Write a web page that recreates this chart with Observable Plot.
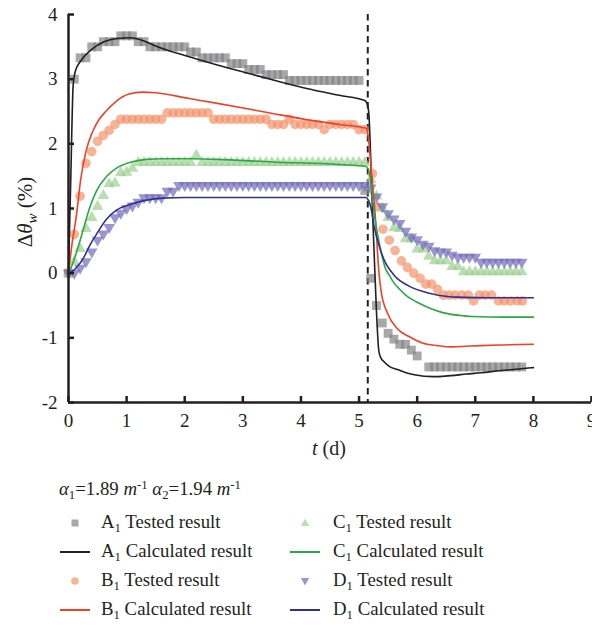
<!DOCTYPE html>
<html>
<head>
<meta charset="utf-8">
<script src="https://cdn.jsdelivr.net/npm/d3@7"></script>
<script src="https://cdn.jsdelivr.net/npm/@observablehq/plot@0.6"></script>
<style>
  html, body { margin: 0; padding: 0; background: #fff; }
  #wrap { position: relative; width: 592px; height: 627px; overflow: hidden;
          font-family: "Liberation Serif", "DejaVu Serif", serif; color: #231f20; }
  #chart { position: absolute; left: 0; top: 0; }
  .leg { position: absolute; font-size: 18.8px; line-height: 20px; white-space: nowrap; }
  .leg sub { font-size: 0.68em; line-height: 0; vertical-align: -0.28em; }
  .leg sup { font-size: 0.68em; line-height: 0; vertical-align: 0.45em; }
  .sym { position: absolute; }
</style>
</head>
<body>
<div id="wrap"><div id="chart"></div></div>
<script>
// ---------------- data ----------------
// A1 tested (squares)
const aT = [0,0.1,0.2,0.3,0.4,0.5,0.6,0.7,0.8,0.9,1,1.1,1.2,1.3,1.4,1.5,1.6,1.7,1.8,1.9,2,2.1,2.2,2.3,2.4,2.5,2.6,2.7,2.8,2.9,3,3.1,3.2,3.3,3.4,3.5,3.6,3.7,3.8,3.9,4,4.1,4.2,4.3,4.4,4.5,4.6,4.7,4.8,4.9,5,5.1,5.2,5.3,5.4,5.5,5.6,5.7,5.8,5.9,6,6.2,6.3,6.4,6.5,6.6,6.7,6.8,6.9,7,7.1,7.2,7.3,7.4,7.5,7.6,7.7,7.8];
const aV = [0,3.0,3.33,3.33,3.5,3.5,3.58,3.58,3.58,3.67,3.67,3.67,3.58,3.58,3.5,3.5,3.5,3.5,3.5,3.5,3.5,3.42,3.42,3.33,3.33,3.33,3.33,3.33,3.24,3.24,3.24,3.15,3.15,3.15,3.07,3.07,3.07,3.07,2.98,2.98,2.98,2.98,2.98,2.98,2.98,2.98,2.98,2.98,2.98,2.98,2.98,1.28,-0.08,-0.5,-0.77,-0.93,-1.02,-1.1,-1.1,-1.19,-1.28,-1.45,-1.45,-1.45,-1.45,-1.45,-1.45,-1.45,-1.45,-1.45,-1.45,-1.45,-1.45,-1.45,-1.45,-1.45,-1.45,-1.45];
// B1 tested (circles)
const bT = [0,0.1,0.2,0.3,0.4,0.5,0.6,0.7,0.8,0.9,1,1.1,1.2,1.3,1.4,1.5,1.6,1.7,1.8,1.9,2,2.1,2.2,2.3,2.4,2.5,2.6,2.7,2.8,2.9,3,3.1,3.2,3.3,3.4,3.5,3.6,3.7,3.8,3.9,4,4.1,4.2,4.3,4.4,4.5,4.6,4.7,4.8,4.9,5,5.1,5.23,5.3,5.41,5.52,5.62,5.73,5.83,5.94,6.05,6.15,6.25,6.35,6.45,6.55,6.65,6.77,6.88,6.97,7.07,7.17,7.28,7.4,7.5,7.61,7.72,7.81];
const bV = [0,0.6,1.19,1.7,1.88,2.04,2.13,2.21,2.3,2.38,2.38,2.38,2.38,2.38,2.38,2.38,2.38,2.48,2.48,2.48,2.48,2.48,2.48,2.48,2.48,2.38,2.38,2.38,2.38,2.38,2.38,2.38,2.38,2.38,2.38,2.3,2.3,2.3,2.38,2.3,2.3,2.3,2.3,2.3,2.22,2.3,2.3,2.3,2.3,2.3,2.22,2.22,1.54,1.03,0.68,0.51,0.35,0.19,0.09,0.0,-0.08,-0.17,-0.17,-0.25,-0.34,-0.34,-0.34,-0.34,-0.34,-0.43,-0.34,-0.34,-0.34,-0.43,-0.43,-0.43,-0.43,-0.43];
// C1 tested (up triangles)
const cT = [0,0.1,0.2,0.3,0.4,0.5,0.6,0.7,0.8,0.9,1,1.1,1.2,1.3,1.4,1.5,1.6,1.7,1.8,1.9,2,2.1,2.2,2.3,2.4,2.5,2.6,2.7,2.8,2.9,3,3.1,3.2,3.3,3.4,3.5,3.6,3.7,3.8,3.9,4,4.1,4.2,4.3,4.4,4.5,4.6,4.7,4.8,4.9,5,5.1,5.2,5.3,5.4,5.5,5.6,5.7,5.8,5.9,6,6.1,6.2,6.3,6.4,6.5,6.6,6.7,6.8,6.9,7,7.1,7.2,7.3,7.4,7.5,7.6,7.7,7.8];
const cV = [0,0.18,0.38,0.69,0.86,1.03,1.2,1.38,1.39,1.55,1.56,1.62,1.71,1.71,1.71,1.71,1.71,1.71,1.71,1.71,1.71,1.71,1.82,1.71,1.71,1.71,1.71,1.71,1.71,1.71,1.71,1.71,1.71,1.71,1.71,1.71,1.71,1.71,1.71,1.71,1.71,1.71,1.71,1.71,1.71,1.71,1.71,1.71,1.71,1.71,1.71,1.71,1.45,1.19,1.0,0.86,0.7,0.69,0.53,0.53,0.37,0.37,0.26,0.19,0.19,0.19,0.1,0.1,0.02,0.02,0.02,0.02,0.02,0.02,0.02,0.02,0.02,0.02,0.02];
// D1 tested (down triangles)
const dT = [0,0.1,0.2,0.3,0.4,0.5,0.6,0.7,0.8,0.9,1,1.1,1.2,1.3,1.4,1.5,1.6,1.7,1.8,1.9,2,2.1,2.2,2.3,2.4,2.5,2.6,2.7,2.8,2.9,3,3.1,3.2,3.3,3.4,3.5,3.6,3.7,3.8,3.9,4,4.1,4.2,4.3,4.4,4.5,4.6,4.7,4.8,4.9,5,5.1,5.2,5.3,5.4,5.5,5.6,5.7,5.8,5.9,6,6.1,6.2,6.3,6.4,6.5,6.6,6.7,6.8,6.9,7,7.1,7.2,7.3,7.4,7.5,7.6,7.7,7.8];
const dV = [0,0.0,0.08,0.18,0.33,0.51,0.61,0.71,0.86,0.93,1.0,1.04,1.1,1.17,1.17,1.17,1.17,1.27,1.27,1.36,1.36,1.36,1.36,1.36,1.36,1.36,1.36,1.36,1.36,1.36,1.36,1.36,1.36,1.36,1.36,1.36,1.36,1.36,1.36,1.36,1.36,1.36,1.36,1.36,1.36,1.36,1.36,1.36,1.36,1.36,1.36,1.36,1.32,1.18,1.03,0.92,0.84,0.77,0.65,0.56,0.52,0.45,0.42,0.35,0.33,0.33,0.28,0.25,0.25,0.25,0.25,0.17,0.17,0.17,0.17,0.17,0.17,0.17,0.17];

// Calculated results (lines)
const acT = [0,0.04,0.08,0.12,0.2,0.3,0.41,0.61,0.84,1.07,1.3,1.53,1.99,2.56,3.14,3.51,4.08,4.66,5.1,5.14,5.17,5.2,5.23,5.26,5.3,5.34,5.37,5.43,5.52,5.66,5.81,5.95,6.28,6.64,6.84,7.1,7.41,8.0];
const acV = [0,1.5,2.9,3.13,3.27,3.38,3.47,3.58,3.63,3.64,3.59,3.5,3.37,3.22,3.08,2.99,2.86,2.75,2.67,2.62,2.45,1.8,1.0,0.3,-0.6,-1.2,-1.3,-1.37,-1.44,-1.49,-1.54,-1.57,-1.6,-1.58,-1.56,-1.54,-1.51,-1.46];
const bcT = [0,0.06,0.13,0.21,0.3,0.41,0.53,0.64,0.81,1.04,1.27,1.5,2.08,2.54,3.51,4.0,4.66,5.12,5.16,5.2,5.25,5.29,5.33,5.38,5.49,5.66,5.86,6.09,6.35,6.6,6.84,7.1,7.41,8.0];
const bcV = [0,0.45,0.85,1.45,1.88,2.18,2.38,2.5,2.65,2.77,2.8,2.79,2.7,2.63,2.47,2.39,2.3,2.24,2.1,1.7,1.2,0.75,0.15,-0.28,-0.62,-0.86,-0.98,-1.08,-1.12,-1.14,-1.13,-1.12,-1.11,-1.1];
const ccT = [0,0.06,0.13,0.25,0.36,0.48,0.65,0.82,1.05,1.34,1.62,2.08,2.54,3.51,4.66,5.12,5.17,5.21,5.25,5.28,5.33,5.4,5.45,5.52,5.6,5.69,5.83,6.0,6.24,6.44,6.81,6.95,7.53,8.0];
const ccV = [0,0.12,0.3,0.66,1.0,1.27,1.49,1.62,1.71,1.76,1.77,1.77,1.76,1.72,1.68,1.65,1.58,1.35,1.0,0.8,0.55,0.25,0.08,-0.03,-0.15,-0.24,-0.36,-0.45,-0.55,-0.61,-0.66,-0.67,-0.68,-0.68];
const dcT = [0,0.07,0.13,0.25,0.36,0.48,0.65,0.82,1.05,1.34,1.62,2.0,3.5,5.12,5.16,5.2,5.26,5.35,5.46,5.55,5.63,5.86,6.21,6.52,6.67,7.24,8.0];
const dcV = [0,0.03,0.08,0.22,0.42,0.6,0.83,0.97,1.06,1.13,1.16,1.17,1.17,1.17,1.13,1.03,0.72,0.41,0.15,0.03,-0.06,-0.2,-0.31,-0.36,-0.37,-0.38,-0.38];

const dashT = [5.15];              // dashed vertical line
const xTicks = [0,1,2,3,4,5,6,7,8,9];
const yTicks = [-2,-1,0,1,2,3,4];
const seriesNames = ["A", "B", "C", "D"];
const testedColors = ["#828384", "#f59169", "#9bd091", "#7069b8"];
const calcColors = ["#231f20", "#ef4123", "#2aa844", "#2e3192"];

// ---------------- tables ----------------
const tbl = (T, V) => T.map((t, i) => ({t, v: V[i]}));
const tested = [tbl(aT, aV), tbl(bT, bV), tbl(cT, cV), tbl(dT, dV)];
const calc = [tbl(acT, acV), tbl(bcT, bcV), tbl(ccT, ccV), tbl(dcT, dcV)];

const ink = "#231f20";
const chart = Plot.plot({
  width: 592, height: 465,
  marginLeft: 68, marginRight: 1, marginTop: 14, marginBottom: 63,
  style: {fontFamily: '"Liberation Serif", serif', fontSize: "19px", color: ink, background: "white"},
  x: {domain: [0, 9], label: null},
  y: {domain: [-2, 4], label: null},
  marks: [
    Plot.ruleX(dashT, {stroke: ink, strokeWidth: 2, strokeDasharray: "6.5,4.5"}),
    Plot.dot(tested[0], {x: "t", y: "v", symbol: "square", r: 5, fill: testedColors[0], fillOpacity: 0.7, stroke: "none"}),
    Plot.dot(tested[1], {x: "t", y: "v", symbol: "circle", r: 4.8, fill: testedColors[1], fillOpacity: 0.7, stroke: "none"}),
    Plot.dot(tested[2], {x: "t", y: "v", symbol: "triangle", r: 4.3, fill: testedColors[2], fillOpacity: 0.7, stroke: "none"}),
    Plot.dot(tested[3], {x: "t", y: "v", symbol: "triangle", rotate: 180, r: 4.3, fill: testedColors[3], fillOpacity: 0.7, stroke: "none"}),
    Plot.line(calc[0], {x: "t", y: "v", stroke: calcColors[0], strokeWidth: 1.6, curve: "monotone-x"}),
    Plot.line(calc[1], {x: "t", y: "v", stroke: calcColors[1], strokeWidth: 1.6, curve: "monotone-x"}),
    Plot.line(calc[2], {x: "t", y: "v", stroke: calcColors[2], strokeWidth: 1.6, curve: "monotone-x"}),
    Plot.line(calc[3], {x: "t", y: "v", stroke: calcColors[3], strokeWidth: 1.6, curve: "monotone-x"}),
    Plot.ruleX([0], {stroke: ink, strokeWidth: 2.5}),
    Plot.ruleY([-2], {stroke: ink, strokeWidth: 2.5}),
    Plot.axisX({ticks: xTicks, tickSize: -6, tickPadding: 17, strokeWidth: 2.5, tickFormat: d => String(d), label: null}),
    Plot.axisY({ticks: yTicks, tickSize: -6, tickPadding: 17, strokeWidth: 2.5, tickFormat: d => String(d), label: null})
  ]
});
document.getElementById("chart").appendChild(chart);

// axis titles with italic / subscript parts
const svg = d3.select(chart);
const yl = svg.append("text")
  .attr("transform", "translate(32,212) rotate(-90)")
  .attr("text-anchor", "middle")
  .attr("fill", ink).attr("font-size", 21);
yl.append("tspan").text("Δ");
yl.append("tspan").attr("font-style", "italic").text("θ");
yl.append("tspan").attr("font-style", "italic").attr("font-size", 15).attr("dy", 5).text("w");
yl.append("tspan").attr("dy", -5).text(" (%)");

const xl = svg.append("text")
  .attr("x", 329).attr("y", 455)
  .attr("text-anchor", "middle")
  .attr("fill", ink).attr("font-size", 20);
xl.append("tspan").attr("font-style", "italic").text("t");
xl.append("tspan").text(" (d)");

// ---------------- legend ----------------
const wrap = document.getElementById("wrap");
const alpha = document.createElement("div");
alpha.className = "leg";
alpha.style.left = "59px"; alpha.style.top = "479px";
alpha.innerHTML = '<i>α</i><sub>1</sub>=1.89 <i>m</i><sup>-1</sup> <i>α</i><sub>2</sub>=1.94 <i>m</i><sup>-1</sup>';
wrap.appendChild(alpha);

const colSym = [75, 305], colText = [101, 333];
const rowTop = [512, 541, 570, 599];
const symbolPaths = {
  square: '<rect x="12.5" y="4.5" width="7" height="7"/>',
  circle: '<circle cx="16" cy="8" r="3.8"/>',
  up: '<path d="M16,3.6 L20.2,11 L11.8,11 Z"/>',
  down: '<path d="M16,12.4 L20.2,5 L11.8,5 Z"/>'
};
const symKinds = ["square", "circle", "up", "down"];
seriesNames.forEach((s, i) => {
  const col = i < 2 ? 0 : 1;
  const r0 = (i % 2) * 2;
  [0, 1].forEach(k => {
    const row = r0 + k;
    const sym = document.createElement("div");
    sym.className = "sym";
    sym.style.left = (colSym[col] - 16) + "px";
    sym.style.top = (rowTop[row] + 3) + "px";
    sym.innerHTML = k === 0
      ? `<svg width="32" height="16"><g fill="${testedColors[i]}" fill-opacity="0.7">${symbolPaths[symKinds[i]]}</g></svg>`
      : `<svg width="32" height="16"><line x1="1" x2="31" y1="8" y2="8" stroke="${calcColors[i]}" stroke-width="2"/></svg>`;
    wrap.appendChild(sym);
    const t = document.createElement("div");
    t.className = "leg";
    t.style.left = colText[col] + "px";
    t.style.top = rowTop[row] + "px";
    t.innerHTML = `${s}<sub>1</sub> ${k === 0 ? "Tested result" : "Calculated result"}`;
    wrap.appendChild(t);
  });
});
</script>
</body>
</html>
